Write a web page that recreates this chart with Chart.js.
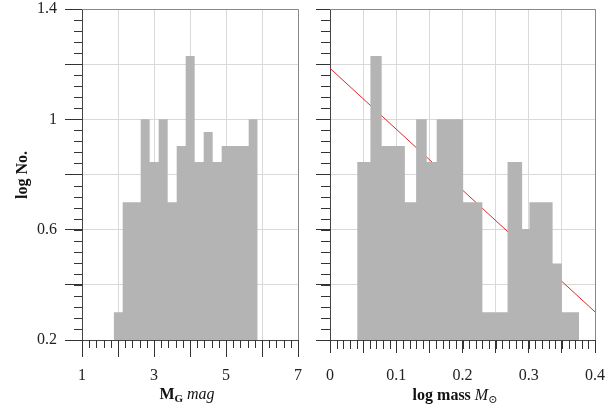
<!DOCTYPE html>
<html>
<head>
<meta charset="utf-8">
<script src="https://cdn.jsdelivr.net/npm/chart.js@4.4.0/dist/chart.umd.min.js"></script>
<style>
  body { margin: 0; background: #fff; width: 609px; height: 408px; position: relative; overflow: hidden; font-family: "Liberation Serif", "DejaVu Serif", serif; }
  canvas { position: absolute; top: 0; }
  #left { left: 0; }
  #right { left: 305px; }
  .lbl { position: absolute; font-size: 16px; line-height: 16px; color: #111; white-space: nowrap; }
  #ylab { left: 22px; top: 175px; font-weight: bold; transform: translate(-50%, -50%) rotate(-90deg); }
  #xlabL { left: 187px; top: 386px; transform: translateX(-50%); }
  #xlabR { left: 455px; top: 387px; transform: translateX(-50%); }
  sub { font-size: 11px; line-height: 0; vertical-align: -3px; }
</style>
</head>
<body>
<canvas id="left" width="305" height="408"></canvas>
<canvas id="right" width="304" height="408"></canvas>
<div class="lbl" id="ylab">log No.</div>
<div class="lbl" id="xlabL"><b>M<sub>G</sub></b> <i>mag</i></div>
<div class="lbl" id="xlabR"><b>log mass</b> <i>M</i><sub>&#8857;</sub></div>
<script>
// left panel: histogram of absolute magnitude (bin edges, log counts)
const magEdges = [1.88, 2.13, 2.38, 2.63, 2.88, 3.13, 3.38, 3.63, 3.88, 4.13, 4.38, 4.63, 4.88, 5.13, 5.38, 5.63, 5.88];
const magLogN = [0.301, 0.699, 0.699, 1.0, 0.845, 1.0, 0.699, 0.903, 1.23, 0.845, 0.954, 0.845, 0.903, 0.903, 0.903, 1.0];

// right panel: histogram of log mass
const massEdges = [0.041, 0.061, 0.078, 0.113, 0.130, 0.146, 0.161, 0.201, 0.230, 0.268, 0.290, 0.301, 0.336, 0.350, 0.376];
const massLogN = [0.845, 1.23, 0.903, 0.699, 1.0, 0.845, 1.0, 0.699, 0.301, 0.845, 0.602, 0.699, 0.477, 0.301];

// red linear fit (end points)
const fitX = [0, 0.4];
const fitY = [1.185, 0.302];

// labelled ticks
const yTicks = [0.2, 0.6, 1.0, 1.4];
const yTickLabels = ["0.2", "0.6", "1", "1.4"];
const magTicks = [1, 3, 5, 7];
const magTickLabels = ["1", "3", "5", "7"];
const massTicks = [0, 0.1, 0.2, 0.3, 0.4];
const massTickLabels = ["0", "0.1", "0.2", "0.3", "0.4"];

const barGray = "#b4b4b4";
const tickFont = { family: "Liberation Serif", size: 16, lineHeight: 1 };

function stepPoints(edges, vals) {
  const pts = vals.map((v, i) => ({ x: edges[i], y: v }));
  pts.push({ x: edges[edges.length - 1], y: vals[vals.length - 1] });
  return pts;
}

function labelFor(v, vals, labels) {
  const i = vals.findIndex(t => Math.abs(t - v) < 1e-6);
  return i >= 0 ? labels[i] : "";
}

// short minor ticks + grey top/right frame
const minorTicks = {
  id: "minorTicks",
  afterDraw(chart, args, opts) {
    const ctx = chart.ctx;
    const area = chart.chartArea;
    const xs = chart.scales.x, ys = chart.scales.y;
    ctx.save();
    ctx.strokeStyle = "#888";
    ctx.lineWidth = 1;
    ctx.beginPath();
    ctx.moveTo(area.left, Math.round(area.top) + 0.5);
    ctx.lineTo(Math.round(area.right) + 0.5, Math.round(area.top) + 0.5);
    ctx.lineTo(Math.round(area.right) + 0.5, area.bottom);
    ctx.stroke();

    ctx.strokeStyle = "#333";
    ctx.beginPath();
    let n = Math.round((xs.max - xs.min) / opts.xStep);
    for (let i = 0; i <= n; i++) {
      const px = Math.round(xs.getPixelForValue(xs.min + i * opts.xStep)) + 0.5;
      ctx.moveTo(px, area.bottom);
      ctx.lineTo(px, area.bottom + opts.xLen);
    }
    n = Math.round((ys.max - ys.min) / opts.yStep);
    for (let i = 0; i <= n; i++) {
      const py = Math.round(ys.getPixelForValue(ys.min + i * opts.yStep)) + 0.5;
      ctx.moveTo(area.left - opts.yLen, py);
      ctx.lineTo(area.left, py);
    }
    ctx.stroke();
    ctx.restore();
  }
};

function yAxis(width, len, pad, labelled) {
  return {
    type: "linear", min: 0.2, max: 1.4, z: 1,
    afterFit: s => { s.width = width; s.paddingTop = 0; s.paddingBottom = 0; },
    ticks: {
      stepSize: 0.2, autoSkip: false, padding: pad, color: "#222", font: tickFont,
      callback: v => labelled ? labelFor(v, yTicks, yTickLabels) : ""
    },
    grid: { color: "#d9d9d9", tickColor: "#333", tickLength: len },
    border: { color: "#444" }
  };
}

function xAxis(min, max, step, len, pad, ticks, labels) {
  return {
    type: "linear", min: min, max: max, z: 1,
    afterFit: s => { s.height = 68; s.paddingLeft = 0; s.paddingRight = 0; },
    ticks: {
      stepSize: step, autoSkip: false, maxRotation: 0, padding: pad, color: "#222", font: tickFont,
      callback: v => labelFor(v, ticks, labels)
    },
    grid: { color: "#d9d9d9", tickColor: "#333", tickLength: len },
    border: { color: "#444" }
  };
}

const common = {
  responsive: false,
  animation: false,
  plugins: { legend: { display: false }, tooltip: { enabled: false } }
};

new Chart(document.getElementById("left"), {
  type: "line",
  data: {
    datasets: [{
      data: stepPoints(magEdges, magLogN),
      stepped: true, fill: "start", backgroundColor: barGray,
      borderColor: "rgba(0,0,0,0)", borderWidth: 0, pointRadius: 0
    }]
  },
  options: {
    ...common,
    layout: { padding: { top: 9, right: 7, left: 0, bottom: 0 } },
    plugins: { ...common.plugins, minorTicks: { xStep: 0.2, xLen: 8, yStep: 0.04, yLen: 8 } },
    scales: {
      x: xAxis(1, 7, 1, 17, 11, magTicks, magTickLabels),
      y: yAxis(82, 17, 8, true)
    }
  },
  plugins: [minorTicks]
});

new Chart(document.getElementById("right"), {
  type: "line",
  data: {
    datasets: [{
      data: stepPoints(massEdges, massLogN),
      stepped: true, fill: "start", backgroundColor: barGray,
      borderColor: "rgba(0,0,0,0)", borderWidth: 0, pointRadius: 0
    }, {
      data: fitX.map((x, i) => ({ x: x, y: fitY[i] })),
      borderColor: "#e02828", borderWidth: 1, pointRadius: 0, fill: false
    }]
  },
  options: {
    ...common,
    layout: { padding: { top: 9, right: 14, left: 0, bottom: 0 } },
    plugins: { ...common.plugins, minorTicks: { xStep: 0.01, xLen: 9, yStep: 0.04, yLen: 9 } },
    scales: {
      x: xAxis(0, 0.4, 0.05, 13, 15, massTicks, massTickLabels),
      y: yAxis(25, 14, 4, false)
    }
  },
  plugins: [minorTicks]
});
</script>
</body>
</html>
